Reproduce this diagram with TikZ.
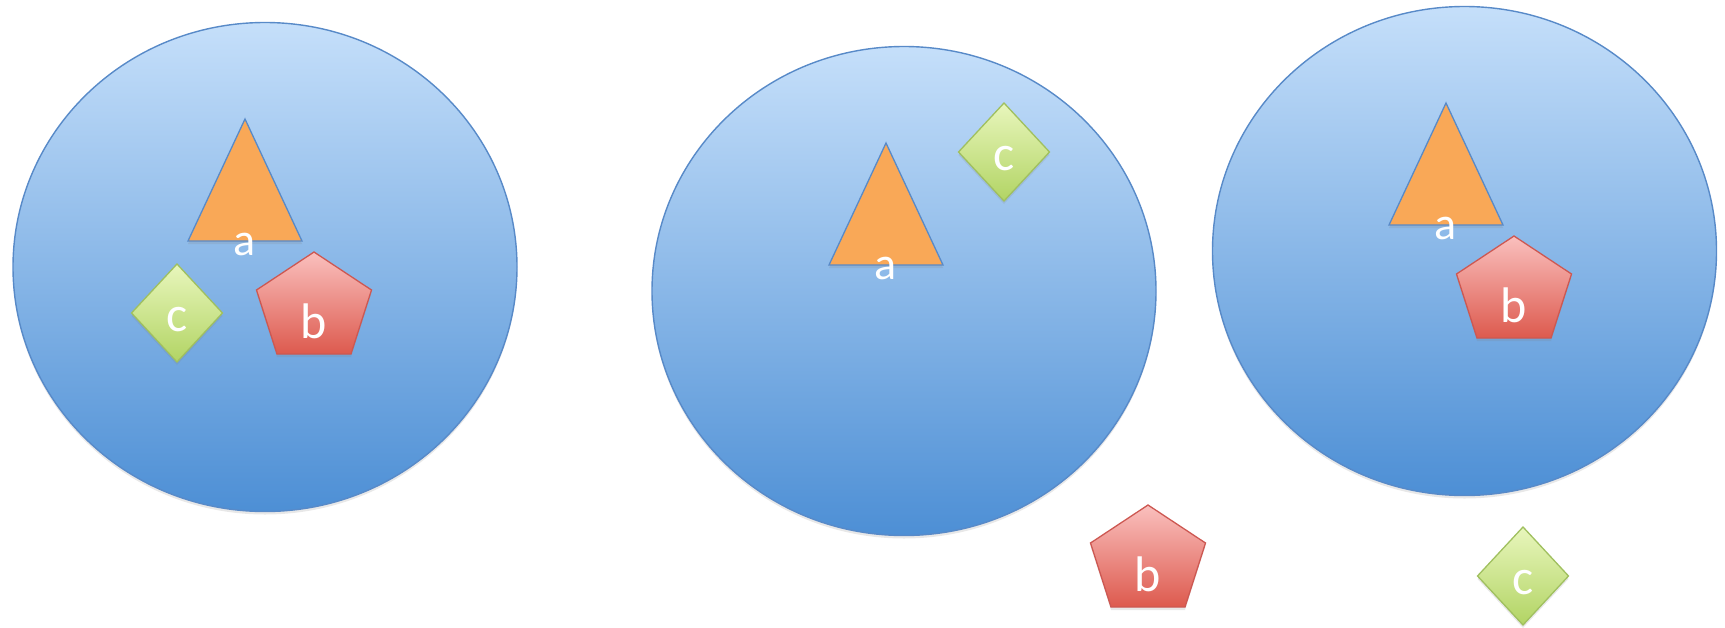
\documentclass[tikz,border=0pt]{standalone}
\usepackage{fontspec}
\setmainfont{Carlito}
\usetikzlibrary{shadows,shapes.geometric}
\definecolor{ellTop}{RGB}{197,223,250}
\definecolor{ellBot}{RGB}{77,143,213}
\definecolor{ellLine}{RGB}{88,138,200}
\definecolor{triFill}{RGB}{249,168,87}
\definecolor{triLine}{RGB}{88,138,200}
\definecolor{penTop}{RGB}{250,192,190}
\definecolor{penBot}{RGB}{221,90,78}
\definecolor{penLine}{RGB}{205,88,82}
\definecolor{diaTop}{RGB}{232,246,188}
\definecolor{diaBot}{RGB}{178,212,100}
\definecolor{diaLine}{RGB}{160,192,95}
\tikzset{
  shad/.style={drop shadow={opacity=0.18, shadow xshift=0pt, shadow yshift=-3pt}},
  blob/.style={ellipse, minimum width=504pt, minimum height=489pt, inner sep=0pt,
    draw=ellLine, line width=1.4pt, top color=ellTop, bottom color=ellBot, shad},
  trishape/.style={fill=triFill, draw=triLine, line width=1.3pt, line join=miter, shad},
  penshape/.style={draw=penLine, line width=1.3pt, top color=penTop, bottom color=penBot, shad},
  diashape/.style={draw=diaLine, line width=1.3pt, top color=diaTop, bottom color=diaBot, shad},
  lbla/.style={text=white, font=\fontsize{46}{46}\selectfont, inner sep=0pt, anchor=base},
  lblbc/.style={text=white, font=\fontsize{50}{50}\selectfont, inner sep=0pt, anchor=base}
}
\begin{document}
\begin{tikzpicture}[x=1pt,y=-1pt]
\useasboundingbox (0,0) rectangle (1725,627);
% ellipses
\node[blob] (e1) at (265,267) {};
\node[blob] (e2) at (904,291) {};
\node[blob] (e3) at (1464.5,251) {};
% group 1
\path[trishape] (245,119) -- ++(57,122) -- ++(-114,0) -- cycle;
\node[lbla] (a1) at (245,255) {a};
\path[diashape] (177,264) -- ++(45.5,49) -- ++(-45.5,49) -- ++(-45.5,-49) -- cycle;
\node[lblbc] (c1) at (177,331) {c};
\path[penshape] (314,252) -- ++(57.5,38) -- ++(-20.5,64) -- ++(-74,0) -- ++(-20.5,-64) -- cycle;
\node[lblbc] (b1) at (314,338) {b};
% group 2
\path[trishape] (886,143) -- ++(57,122) -- ++(-114,0) -- cycle;
\node[lbla] (a2) at (886,279) {a};
\path[diashape] (1004,103) -- ++(45.5,49) -- ++(-45.5,49) -- ++(-45.5,-49) -- cycle;
\node[lblbc] (c2) at (1004,170) {c};
\path[penshape] (1148,505) -- ++(57.5,38) -- ++(-20.5,64) -- ++(-74,0) -- ++(-20.5,-64) -- cycle;
\node[lblbc] (b2) at (1148,591) {b};
% group 3
\path[trishape] (1446,103) -- ++(57,122) -- ++(-114,0) -- cycle;
\node[lbla] (a3) at (1446,239) {a};
\path[penshape] (1514,236) -- ++(57.5,38) -- ++(-20.5,64) -- ++(-74,0) -- ++(-20.5,-64) -- cycle;
\node[lblbc] (b3) at (1514,322) {b};
\path[diashape] (1523,527) -- ++(45.5,49) -- ++(-45.5,49) -- ++(-45.5,-49) -- cycle;
\node[lblbc] (c3) at (1523,594) {c};
\end{tikzpicture}
\end{document}
